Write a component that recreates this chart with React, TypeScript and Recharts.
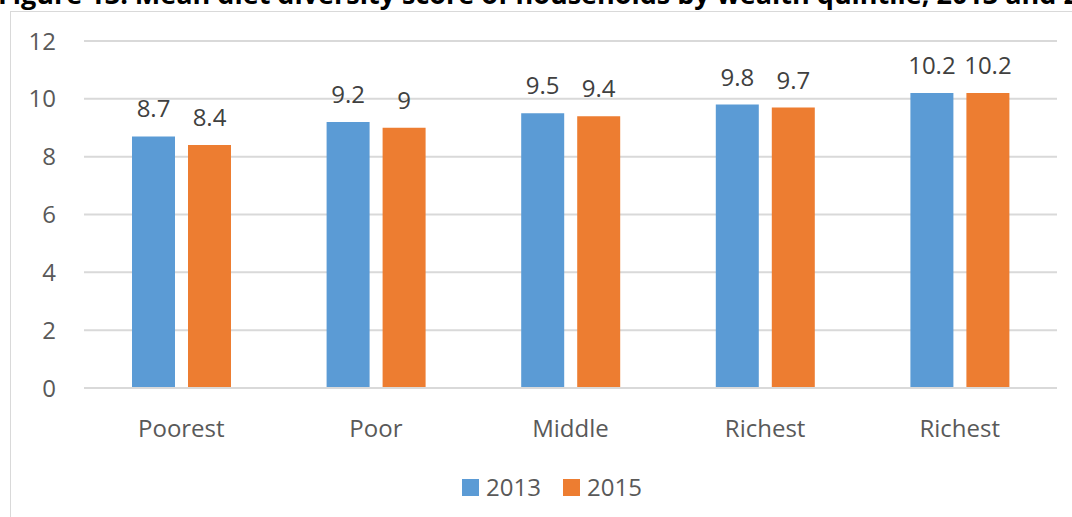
import React from 'react';
import { BarChart, Bar, XAxis, YAxis, CartesianGrid, Legend, LabelList } from 'recharts';

const categories = ['Poorest', 'Poor', 'Middle', 'Richest', 'Richest'];
const values2013 = [8.7, 9.2, 9.5, 9.8, 10.2];
const values2015 = [8.4, 9, 9.4, 9.7, 10.2];
const yTicks = [0, 2, 4, 6, 8, 10, 12];
const seriesNames = ['2013', '2015'];
const colors = ['#5B9BD5', '#ED7D31'];
const title = 'Figure 13: Mean diet diversity score of households by wealth quintile, 2013 and 2015';

const data = categories.map((c, i) => ({ name: c, y2013: values2013[i], y2015: values2015[i] }));

const FONT = '"Open Sans", sans-serif';

const LegendContent = () => (
  <div style={{ display: 'flex', justifyContent: 'center', alignItems: 'center', height: 30, paddingLeft: 32, fontFamily: FONT, fontSize: 24, color: '#595959' }}>
    {seriesNames.map((s, i) => (
      <div key={s} style={{ display: 'flex', alignItems: 'center', marginRight: i === 0 ? 22 : 0 }}>
        <div style={{ width: 17, height: 17, background: colors[i], marginRight: 7 }} />
        <span style={{ lineHeight: '30px' }}>{s}</span>
      </div>
    ))}
  </div>
);

export default function App() {
  return (
    <div style={{ position: 'absolute', left: 0, top: 0, width: 1072, height: 517, overflow: 'hidden', background: '#fff' }}>
      <div style={{ position: 'absolute', left: -2, top: -20, whiteSpace: 'nowrap', fontFamily: FONT, fontWeight: 700, fontSize: 27, lineHeight: 1, color: '#000' }}>{title}</div>
      <div style={{ position: 'absolute', left: 10, top: 11, width: 1200, height: 700, border: '1.5px solid #d9d9d9' }} />
      <div style={{ position: 'absolute', left: 0, top: 0 }}>
        <BarChart width={1072} height={517} data={data} margin={{ top: 41, right: 15, bottom: 15, left: 0 }} barSize={43} barGap={13}>
          <CartesianGrid vertical={false} stroke="#d9d9d9" strokeWidth={2} />
          <XAxis dataKey="name" axisLine={{ stroke: '#d9d9d9', strokeWidth: 2 }} tickLine={false} tickSize={0} tickMargin={32} height={84} tick={{ fontFamily: FONT, fontSize: 24, fill: '#595959' }} interval={0} />
          <YAxis domain={[0, 12]} ticks={yTicks} axisLine={false} tickLine={false} tickSize={0} tickMargin={28} width={84} tick={{ fontFamily: FONT, fontSize: 24, fill: '#595959' }} />
          <Legend verticalAlign="bottom" wrapperStyle={{ left: 0, width: 1072 }} content={<LegendContent />} />
          <Bar dataKey="y2013" name={seriesNames[0]} fill={colors[0]} isAnimationActive={false}>
            <LabelList dataKey="y2013" position="top" offset={19} style={{ fontFamily: FONT, fontSize: 24, fill: '#404040' }} />
          </Bar>
          <Bar dataKey="y2015" name={seriesNames[1]} fill={colors[1]} isAnimationActive={false}>
            <LabelList dataKey="y2015" position="top" offset={19} style={{ fontFamily: FONT, fontSize: 24, fill: '#404040' }} />
          </Bar>
        </BarChart>
      </div>
    </div>
  );
}
